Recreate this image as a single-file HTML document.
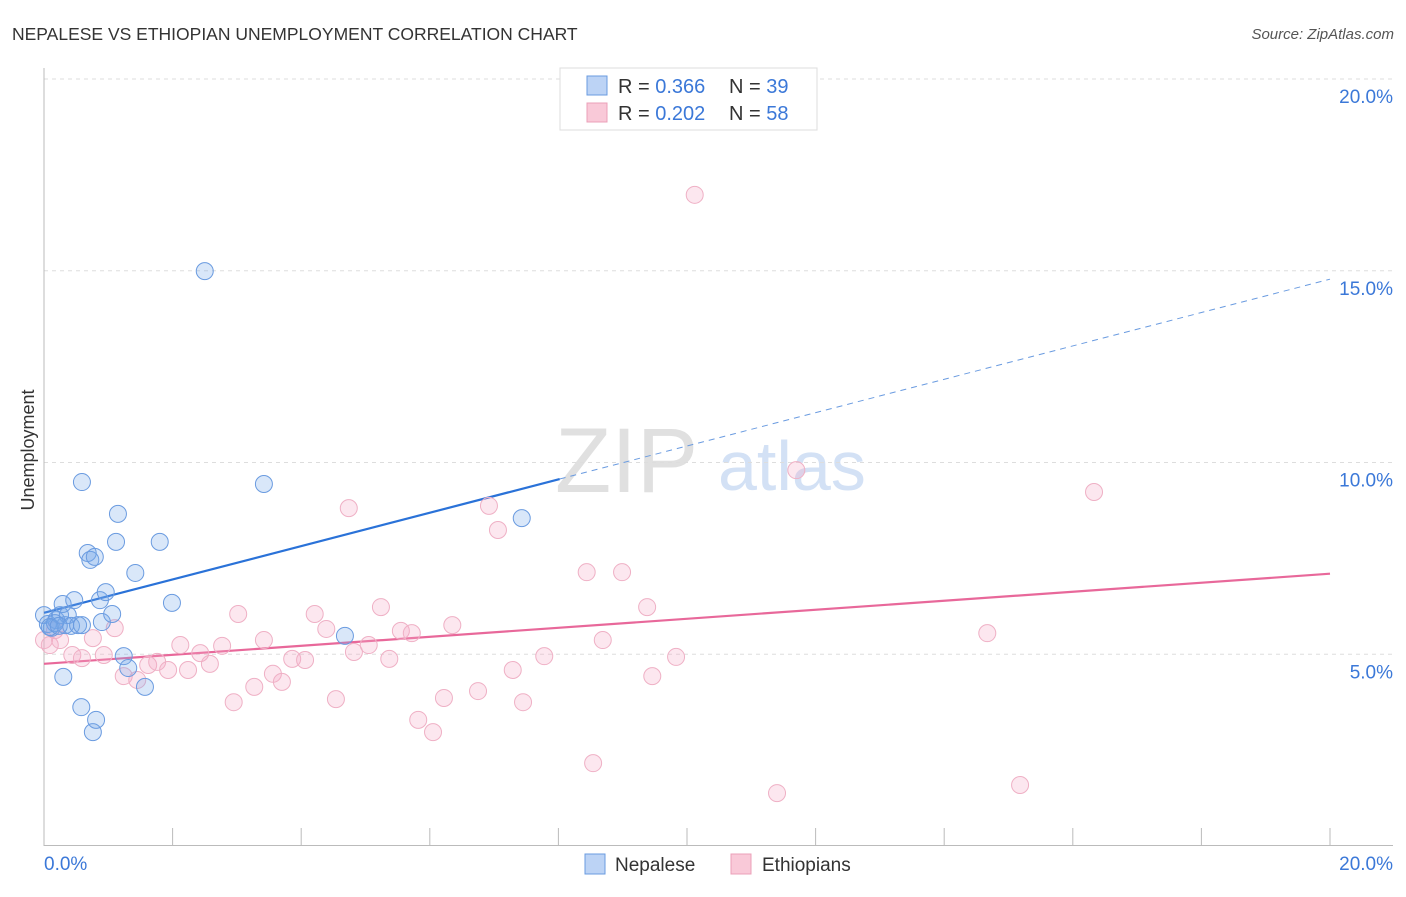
<!DOCTYPE html>
<html><head><meta charset="utf-8"><style>
body{margin:0;background:#fff;font-family:"Liberation Sans",sans-serif}
svg text{font-family:"Liberation Sans",sans-serif}
</style></head><body>
<svg width="1406" height="892">
<text x="12" y="40" font-size="17.5" fill="#333">NEPALESE VS ETHIOPIAN UNEMPLOYMENT CORRELATION CHART</text>
<text x="1394" y="39" font-size="15" fill="#555" text-anchor="end" font-style="italic">Source: ZipAtlas.com</text>
<text x="40" y="456" font-size="18" fill="#333" transform="rotate(-90 34 456)" text-anchor="middle">Unemployment</text>
<g>
<text x="555" y="492" font-size="92" fill="#e0e0e0" font-family="Liberation Serif">ZIP</text>
<text x="718" y="490" font-size="70" fill="#d3e1f5">atlas</text>
</g>
<g id="grid"></g><g id="axes"></g><g id="lines"></g><g id="pts"></g>
<g>
<rect x="560" y="68" width="257" height="62" fill="#fff" stroke="#ddd"/>
<rect x="587" y="76" width="20" height="19" fill="#bcd3f5" stroke="#6a9be0"/>
<rect x="587" y="103" width="20" height="19" fill="#f9c9d8" stroke="#eba0b8"/>
<text x="618" y="93" font-size="20" fill="#333">R = <tspan fill="#3b78d8">0.366</tspan></text>
<text x="729" y="93" font-size="20" fill="#333">N = <tspan fill="#3b78d8">39</tspan></text>
<text x="618" y="120" font-size="20" fill="#333">R = <tspan fill="#3b78d8">0.202</tspan></text>
<text x="729" y="120" font-size="20" fill="#333">N = <tspan fill="#3b78d8">58</tspan></text>
</g>
<g>
<rect x="585" y="854" width="20" height="20" fill="#bcd3f5" stroke="#6a9be0"/>
<text x="615" y="871" font-size="19" fill="#333">Nepalese</text>
<rect x="731" y="854" width="20" height="20" fill="#f9c9d8" stroke="#eba0b8"/>
<text x="762" y="871" font-size="19" fill="#333">Ethiopians</text>
</g>
</svg>
<script>
const yTicks=[5,10,15,20];
const yTickLabels=["5.0%","10.0%","15.0%","20.0%"];
const xTickLabels=["0.0%","20.0%"];
const nepX=[0,.06,.12,.19,.25,.29,.33,.37,.42,.47,.53,.59,.17,.09,.23,.30,.59,.58,.68,.72,.79,.76,.81,.87,.90,.96,1.06,1.12,1.15,1.24,1.31,1.42,1.57,1.80,1.99,2.50,3.42,4.68,7.43];
const nepY=[6.02,5.79,5.69,5.89,6.02,6.31,5.76,6.02,5.74,6.41,5.76,5.76,5.81,5.71,5.74,4.41,9.49,3.62,7.64,7.46,7.54,2.97,3.29,6.41,5.84,6.62,6.05,7.93,8.66,4.95,4.64,7.12,4.15,7.93,6.34,14.99,9.44,5.48,8.55];
const ethX=[0,.09,.17,.25,.44,.59,.76,.93,1.10,1.24,1.45,1.62,1.76,1.93,2.12,2.24,2.43,2.58,2.77,2.95,3.02,3.27,3.42,3.56,3.70,3.86,4.06,4.21,4.39,4.54,4.74,4.82,5.05,5.24,5.37,5.55,5.72,5.82,6.05,6.22,6.35,6.75,6.92,7.06,7.29,7.45,7.78,8.44,8.54,8.69,8.99,9.38,9.46,9.83,10.12,11.40,11.70,14.67,15.18,16.33];
const ethY=[5.37,5.24,5.63,5.37,4.98,4.90,5.42,4.98,5.68,4.43,4.33,4.72,4.80,4.59,5.24,4.59,5.03,4.75,5.22,3.75,6.05,4.15,5.37,4.49,4.28,4.88,4.85,6.05,5.66,3.83,8.81,5.06,5.24,6.23,4.88,5.61,5.55,3.29,2.97,3.86,5.76,4.04,8.87,8.24,4.59,3.75,4.95,7.14,2.16,5.37,7.14,6.23,4.43,4.93,16.98,1.38,9.80,5.55,1.59,9.23];
const nepTrend=[6.08,14.78]; const nepSolidEnd=8.02;
const ethTrend=[4.75,7.10];
const NS="http://www.w3.org/2000/svg";
const X=v=>44+v/20*1286, Y=v=>846-v*38.35;
function mk(t,a,p){const e=document.createElementNS(NS,t);for(const k in a)e.setAttribute(k,a[k]);p.appendChild(e);return e;}
const grid=document.getElementById('grid'),axes=document.getElementById('axes'),lines=document.getElementById('lines'),pts=document.getElementById('pts');
yTicks.forEach((t,i)=>{
 const l=mk('line',{x1:44,x2:1393,y1:Y(t),y2:Y(t),stroke:'#ddd','stroke-dasharray':'4,4'},grid);
 
 
 const tx=mk('text',{x:1393,y:Y(t)+24,'font-size':19,fill:'#3b78d8','text-anchor':'end'},axes);tx.textContent=yTickLabels[i];
 
 
});
let a=mk('line',{x1:44,x2:44,y1:68,y2:846,stroke:'#bbb'},axes);


a=mk('line',{x1:44,x2:1393,y1:845.5,y2:845.5,stroke:'#bbb'},axes);


for(let i=0;i<=10;i++){const t=mk('line',{x1:X(i*2),x2:X(i*2),y1:828,y2:846,stroke:'#bbb'},axes);
 
 }
[[0,44,'start'],[20,1393,'end']].forEach((d,i)=>{const t=mk('text',{x:d[1],y:870,'font-size':19,fill:'#3b78d8','text-anchor':d[2]},axes);t.textContent=xTickLabels[i];
 
 });
const ty=(tr,x)=>tr[0]+(tr[1]-tr[0])*x/20;
let l=mk('line',{x1:X(0),y1:Y(ty(ethTrend,0)),x2:X(20),y2:Y(ty(ethTrend,20)),stroke:'#e8689a','stroke-width':2.2},lines);


l=mk('line',{x1:X(0),y1:Y(ty(nepTrend,0)),x2:X(nepSolidEnd),y2:Y(ty(nepTrend,nepSolidEnd)),stroke:'#2a72d8','stroke-width':2.2},lines);


l=mk('line',{x1:X(nepSolidEnd),y1:Y(ty(nepTrend,nepSolidEnd)),x2:X(20),y2:Y(ty(nepTrend,20)),stroke:'#6a9be0','stroke-width':1,'stroke-dasharray':'6,5'},lines);


ethX.forEach((x,i)=>{const c=mk('circle',{cx:X(x),cy:Y(ethY[i]),r:8.5,fill:'rgba(244,170,198,0.28)',stroke:'#efb0c5','stroke-width':1},pts);
 
 });
nepX.forEach((x,i)=>{const c=mk('circle',{cx:X(x),cy:Y(nepY[i]),r:8.5,fill:'rgba(120,168,232,0.28)',stroke:'#6a9be0','stroke-width':1},pts);
 
 });
</script>
</body></html>
